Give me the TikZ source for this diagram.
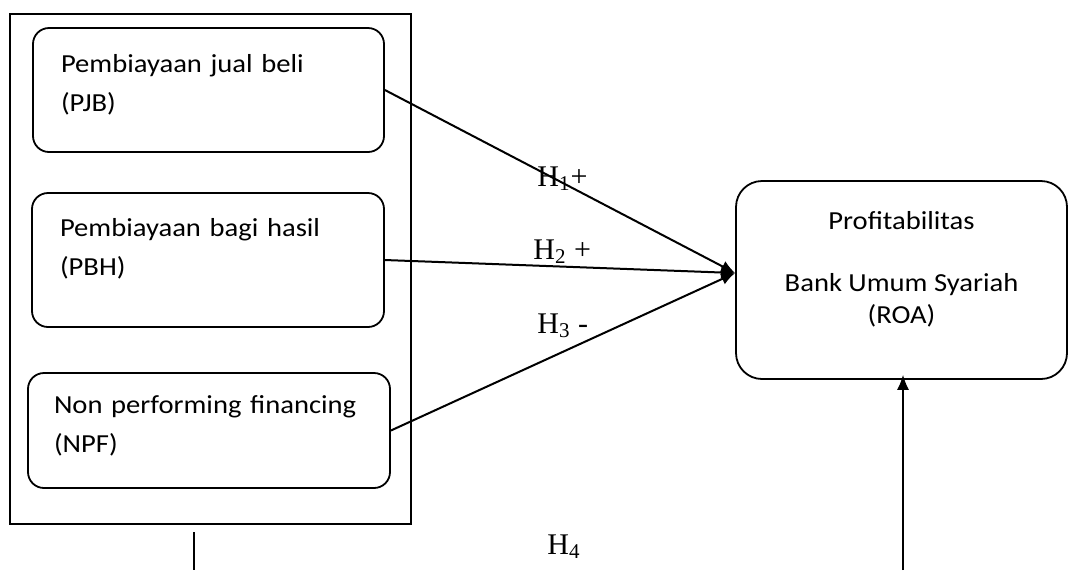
\documentclass[tikz,border=0pt]{standalone}
\usepackage{fontspec}
\setmainfont{Carlito}[FakeStretch=1.1]
\newfontfamily\tnr{Liberation Serif}
\usetikzlibrary{arrows.meta}

\begin{document}
\begin{tikzpicture}[x=0.5pt,y=-0.5pt,
  varbox/.style={draw,rounded corners=8pt,line width=0.9pt,align=left,inner xsep=14pt,font=\fontsize{13}{19.5}\selectfont},
  hlabel/.style={anchor=base west,inner sep=0,font=\tnr\fontsize{15}{18}\selectfont},
  link/.style={line width=1pt,-{Latex[length=7pt,width=6pt]}}]
\useasboundingbox (0,0) rectangle (1068,570);
\node[draw,line width=1.1pt,minimum width=200.5pt,minimum height=255pt] (grp) at (210.5,269) {};
\node[varbox,minimum height=62pt,text width=147.5pt,text depth=26.7pt] (pjb) at (208.5,90) {Pembiayaan jual beli\\(PJB)};
\node[varbox,minimum height=67pt,text width=148pt,text depth=32.7pt] (pbh) at (208,260) {Pembiayaan bagi hasil\\(PBH)};
\node[varbox,inner xsep=13pt,minimum height=57.5pt,text width=155pt,text depth=26.2pt] (npf) at (209,430.5) {Non performing financing\\(NPF)};
\node[draw,rounded corners=13pt,line width=0.9pt,align=center,minimum width=165.5pt,minimum height=99pt,text depth=13pt,font=\fontsize{13}{16}\selectfont] (roa) at (901.5,280) {Profitabilitas\\[15pt]Bank Umum Syariah\\(ROA)};
% hipotesis
\draw[link] (pjb.east) -- ([yshift=3.5pt]roa.west);
\draw[link] (pbh.east) -- ([yshift=3.5pt]roa.west);
\draw[link] (npf.east) -- ([yshift=3.5pt]roa.west);
\node[hlabel] (h1) at (537,186) {H\textsubscript{1}+};
\node[hlabel] (h2) at (533,259) {H\textsubscript{2} +};
\node[hlabel] (h3) at (537,333) {H\textsubscript{3} -};
\node[hlabel] (h4) at (547,554) {H\textsubscript{4}};
\coordinate (b1) at (194,570);
\coordinate (b2) at (903,570);
\draw[line width=0.6pt] ([yshift=-3.5pt]b1 |- grp.south) -- (b1);
\draw[line width=0.6pt,-{Latex[length=7.5pt,width=6pt]}] (b2) -- ([yshift=2.5pt]b2 |- roa.south);
\end{tikzpicture}
\end{document}
